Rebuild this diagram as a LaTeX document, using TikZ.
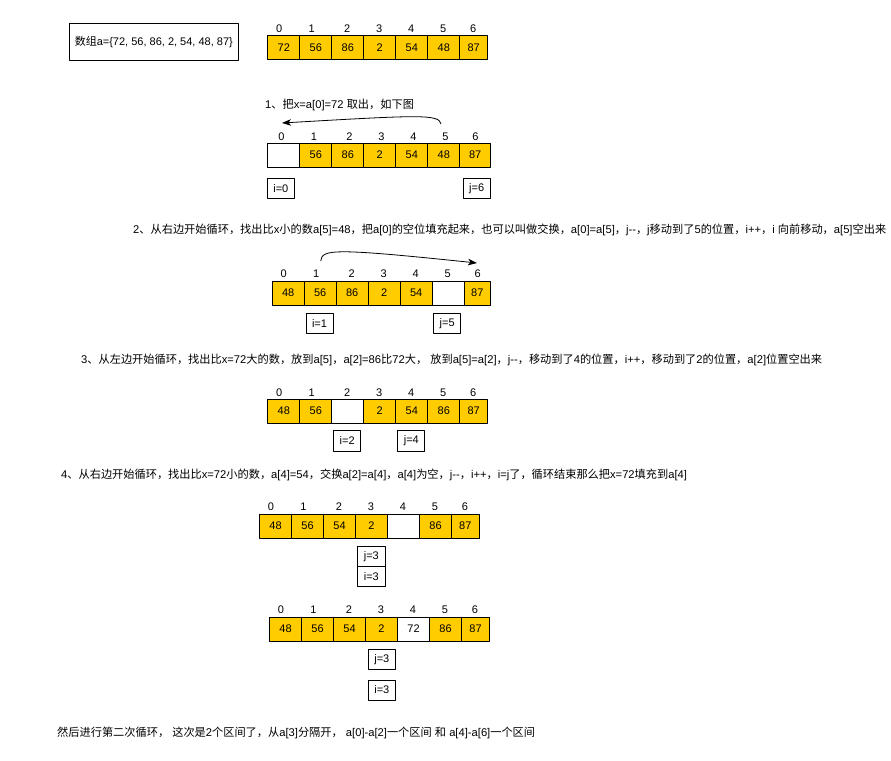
\documentclass[tikz,border=0pt]{standalone}
\usepackage{fontspec}
\usetikzlibrary{arrows.meta}
\setmainfont{Liberation Sans}
\newfontfamily\cjk{Noto Sans CJK SC}
\newcommand{\zh}[1]{{\cjk #1}}
\definecolor{cellyellow}{HTML}{FFCC00}
\begin{document}
\begin{tikzpicture}[x=1pt, y=-1pt, font=\fontsize{11}{13}\selectfont, line join=round, >={Stealth[length=9pt, width=6.5pt, inset=2.5pt]},
	cell/.style={draw, line width=1pt, fill=cellyellow, anchor=west, minimum width=32pt, minimum height=24pt, inner sep=0pt},
	idx/.style={inner sep=0pt},
	ptr/.style={draw, line width=1pt, fill=white, minimum width=27pt, minimum height=20pt, inner sep=0pt},
	note/.style={anchor=west, inner sep=0pt, font=\fontsize{11.2}{13}\selectfont}]
	\useasboundingbox (0,0) rectangle (891,760);
	% start array
	\node[draw, line width=1pt, minimum width=169pt, minimum height=37pt, inner sep=0pt] (arr) at (153.8,41.8) {\zh{数组}a=\{72, 56, 86, 2, 54, 48, 87\}};
	\foreach \v/\f [count=\k from 0] in {72/cellyellow,56/cellyellow,86/cellyellow,2/cellyellow,54/cellyellow,48/cellyellow}
		\node[cell, fill=\f] (r1c\k) at (267.3+32*\k,48) {\v};
	\node[cell, minimum width=27.7pt] (r1c6) at (459.3,48) {87};
	\foreach \d [count=\k from 0] in {12,44.5,80,112,144,176,206}
		\node[idx] (r1n\k) at (267.3+\d,29) {\k};
	% step 1
	\node[note] (t1) at (265,104.5) {1\zh{、把}x=a[0]=72 \zh{取出，如下图}};
	\foreach \v/\f [count=\k from 0] in {{}/white,56/cellyellow,86/cellyellow,2/cellyellow,54/cellyellow,48/cellyellow}
		\node[cell, fill=\f] (r2c\k) at (267.3+32*\k,155) {\v};
	\node[cell, minimum width=30.7pt] (r2c6) at (459.3,155) {87};
	\foreach \d [count=\k from 0] in {12,44.5,80,112,144,176,206}
		\node[idx] (r2n\k) at (269.5+\d,136.5) {\k};
	\node[ptr] (i0) at (280.8,188.3) {i=0};
	\node[ptr] (j6) at (476.7,188.3) {j=6};
	\coordinate (s1) at (441,124);
	\coordinate (e1) at (282,123);
	\draw[->, line width=0.8pt] (s1) .. controls (439,114) and (420,115) .. (e1);
	% step 2
	\node[note] (t2) at (133,230) {2\zh{、从右边开始循环，找出比}x\zh{小的数}a[5]=48\zh{，把}a[0]\zh{的空位填充起来，也可以叫做交换，}a[0]=a[5]\zh{，}j-{}-\zh{，}j\zh{移动到了}5\zh{的位置，}i++\zh{，}i \zh{向前移动，}a[5]\zh{空出来}};
	\foreach \v/\f [count=\k from 0] in {48/cellyellow,56/cellyellow,86/cellyellow,2/cellyellow,54/cellyellow,{}/white}
		\node[cell, fill=\f] (r3c\k) at (271.7+32*\k,293) {\v};
	\node[cell, minimum width=26.3pt] (r3c6) at (463.7,293) {87};
	\foreach \d [count=\k from 0] in {12,44.5,80,112,144,176,206}
		\node[idx] (r3n\k) at (271.7+\d,273.5) {\k};
	\node[ptr] (i1) at (319.5,323.7) {i=1};
	\node[ptr] (j5) at (447.2,323.7) {j=5};
	\coordinate (s2) at (320.7,261);
	\coordinate (e2) at (477,263);
	\draw[->, line width=0.8pt] (s2) .. controls (322,249) and (333,248) .. (e2);
	% step 3
	\node[note] (t3) at (81,360) {3\zh{、从左边开始循环，找出比}x=72\zh{大的数，放到}a[5]\zh{，}a[2]=86\zh{比}72\zh{大，} \zh{放到}a[5]=a[2]\zh{，}j-{}-\zh{，移动到了}4\zh{的位置，}i++\zh{，移动到了}2\zh{的位置，}a[2]\zh{位置空出来}};
	\foreach \v/\f [count=\k from 0] in {48/cellyellow,56/cellyellow,{}/white,2/cellyellow,54/cellyellow,86/cellyellow}
		\node[cell, fill=\f] (r4c\k) at (267.3+32*\k,411) {\v};
	\node[cell, minimum width=27.7pt] (r4c6) at (459.3,411) {87};
	\foreach \d [count=\k from 0] in {12,44.5,80,112,144,176,206}
		\node[idx] (r4n\k) at (267.3+\d,392.3) {\k};
	\node[ptr, minimum height=21pt] (i2) at (347.2,440.5) {i=2};
	\node[ptr, minimum height=21pt] (j4) at (411.3,440.5) {j=4};
	% step 4
	\node[note] (t4) at (61,475) {4\zh{、从右边开始循环，找出比}x=72\zh{小的数，}a[4]=54\zh{，交换}a[2]=a[4]\zh{，}a[4]\zh{为空，}j-{}-\zh{，}i++\zh{，}i=j\zh{了，循环结束那么把}x=72\zh{填充到}a[4]};
	\foreach \v/\f [count=\k from 0] in {48/cellyellow,56/cellyellow,54/cellyellow,2/cellyellow,{}/white,86/cellyellow}
		\node[cell, fill=\f] (r5c\k) at (259+32*\k,526) {\v};
	\node[cell, minimum width=27.7pt] (r5c6) at (451,526) {87};
	\foreach \d [count=\k from 0] in {12,44.5,80,112,144,176,206}
		\node[idx] (r5n\k) at (259+\d,506.7) {\k};
	\node[ptr, minimum width=28pt] (j3a) at (371.3,556.7) {j=3};
	\node[ptr, minimum width=28pt] (i3a) at (371.3,576.7) {i=3};
	% result
	\foreach \v/\f [count=\k from 0] in {48/cellyellow,56/cellyellow,54/cellyellow,2/cellyellow,72/white,86/cellyellow}
		\node[cell, fill=\f] (r6c\k) at (269+32*\k,629) {\v};
	\node[cell, minimum width=28pt] (r6c6) at (461,629) {87};
	\foreach \d [count=\k from 0] in {12,44.5,80,112,144,176,206}
		\node[idx] (r6n\k) at (269+\d,609.7) {\k};
	\node[ptr] (j3b) at (381.8,659.7) {j=3};
	\node[ptr] (i3b) at (381.8,690) {i=3};
	\node[note] (t5) at (57,733) {\zh{然后进行第二次循环，} \zh{这次是}2\zh{个区间了，从}a[3]\zh{分隔开，} a[0]-a[2]\zh{一个区间} \zh{和} a[4]-a[6]\zh{一个区间}};
\end{tikzpicture}
\end{document}
